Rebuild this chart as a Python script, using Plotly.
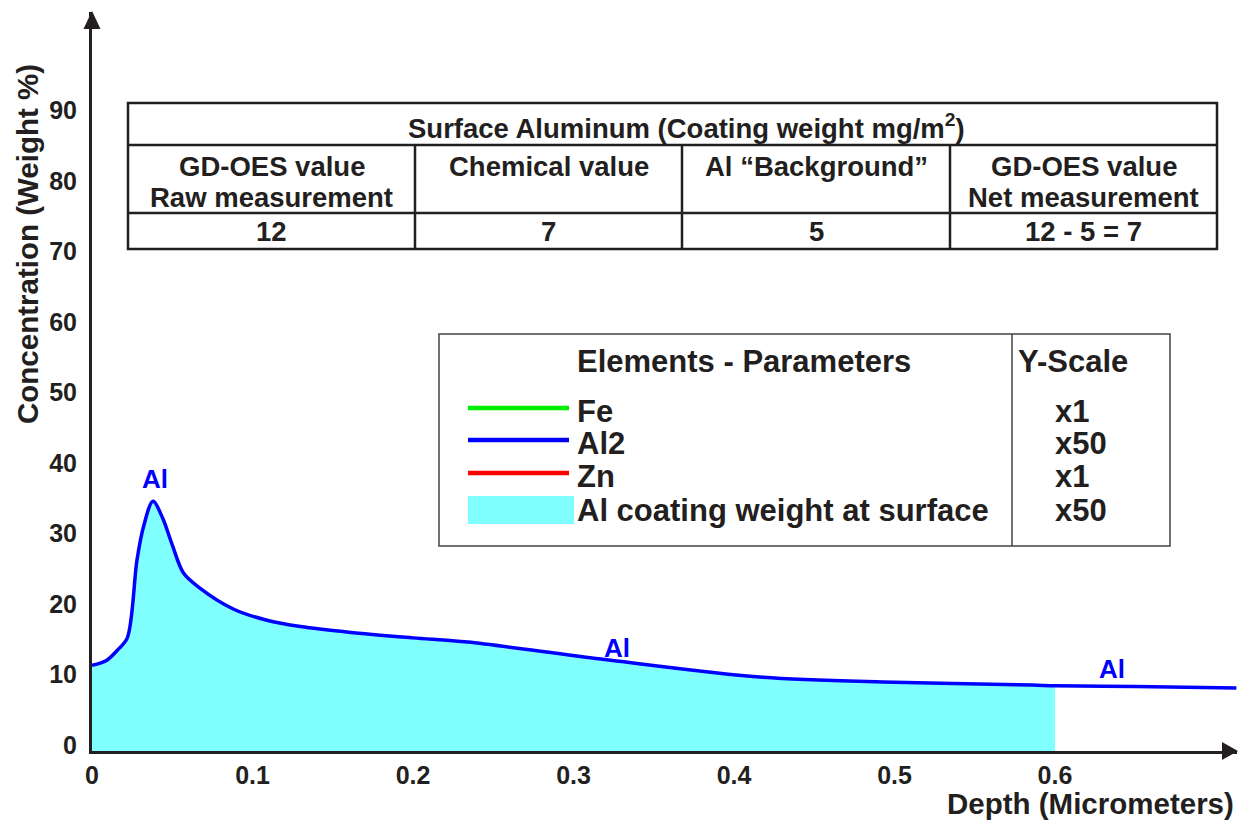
import plotly.graph_objects as go

# ---- data ----
depth = [0, 0.009, 0.016, 0.022, 0.028, 0.032, 0.038, 0.044, 0.050, 0.057, 0.067,
         0.088, 0.109, 0.130, 0.160, 0.200, 0.234, 0.317, 0.418, 0.500, 0.586, 0.600, 0.650, 0.713]
al2 = [11.3, 12.0, 13.5, 15.2, 26.2, 30.9, 34.6, 32.2, 28.4, 24.4, 22.3,
       19.3, 17.7, 16.8, 16.0, 15.2, 14.6, 12.2, 9.6, 8.9, 8.5, 8.4, 8.3, 8.1]
fill_limit = 0.6

x_ticks = [0, 0.1, 0.2, 0.3, 0.4, 0.5, 0.6]
x_ticktext = ["0", "0.1", "0.2", "0.3", "0.4", "0.5", "0.6"]
y_ticks = [0, 10, 20, 30, 40, 50, 60, 70, 80, 90]

table_title = "Surface Aluminum (Coating weight mg/m<sup>2</sup>)"
table_headers = [["GD-OES value", "Raw measurement"], ["Chemical value"],
                 ["Al \u201cBackground\u201d"], ["GD-OES value", "Net measurement"]]
table_values = ["12", "7", "5", "12 - 5 = 7"]

legend_names = ["Fe", "Al2", "Zn", "Al coating weight at surface"]
legend_scales = ["x1", "x50", "x1", "x50"]
legend_colors = ["#00EE00", "#0000FF", "#FF0000", "#80FFFF"]

peak_labels = [(0.0393, 37.7, "Al"), (0.327, 13.8, "Al"), (0.6355, 10.8, "Al")]

# ---- layout helpers (pixel -> paper) ----
W, H = 1238, 820
L, R, T, B = 92, 1, 12, 69
PW, PH = W - L - R, H - T - B
def px(x): return (x - L) / PW
def py(y): return (H - B - y) / PH

INK = "#231F20"
FONT = "Liberation Sans"
ymin, ymax = -0.85, 104.0
xmax = 0.7134

fig = go.Figure()

fd = [d for d in depth if d <= fill_limit]
fv = [v for d, v in zip(depth, al2) if d <= fill_limit]
fig.add_trace(go.Scatter(x=[0, fill_limit], y=[ymin, ymin], mode="lines",
                         line=dict(width=0), showlegend=False, hoverinfo="skip"))
fig.add_trace(go.Scatter(x=fd, y=fv, mode="lines", line=dict(width=0, shape="spline", smoothing=0.9),
                         fill="tonexty", fillcolor="#80FFFF", showlegend=False, hoverinfo="skip"))
fig.add_trace(go.Scatter(x=depth, y=al2, mode="lines", name="Al2",
                         line=dict(color="#0000FF", width=3.5, shape="spline", smoothing=0.9),
                         showlegend=False))

ann = []
shapes = []

def text_at(x, y, text, font, xanchor="center", yanchor="middle", **kw):
    d = dict(x=px(x), y=py(y), xref="paper", yref="paper", text=text, showarrow=False,
             xanchor=xanchor, yanchor=yanchor, font=font)
    d.update(kw)
    ann.append(d)

for (xv, yv, t) in peak_labels:
    ann.append(dict(x=xv, y=yv, xref="x", yref="y", text="<b>%s</b>" % t, showarrow=False,
                    xanchor="center", yanchor="middle", font=dict(family=FONT, size=26, color="#0000FF")))

# axis arrows
shapes.append(dict(type="path", xref="paper", yref="paper",
                   path="M %f,%f L %f,%f L %f,%f Z" % (px(1238), py(751), px(1222), py(742), px(1222), py(760)),
                   fillcolor=INK, line=dict(width=0)))
shapes.append(dict(type="path", xref="paper", yref="paper",
                   path="M %f,%f L %f,%f L %f,%f Z" % (px(92), py(11), px(83.5), py(29), px(100.5), py(29)),
                   fillcolor=INK, line=dict(width=0)))

# axis titles
text_at(28, 244, "<b>Concentration (Weight %)</b>", dict(family=FONT, size=29.5, color=INK), textangle=-90)
text_at(1236, 803, "<b>Depth (Micrometers)</b>", dict(family=FONT, size=29.5, color=INK), xanchor="right")

# ---- table ----
tl, tr, tt, tb = 128, 1217, 103, 249
r1, r2 = 145, 213
cols = [tl, 415, 682, 950, tr]
tline = dict(color=INK, width=2.5)
shapes.append(dict(type="rect", xref="paper", yref="paper", x0=px(tl), x1=px(tr), y0=py(tb), y1=py(tt),
                   line=tline, fillcolor="white"))
for yy in (r1, r2):
    shapes.append(dict(type="line", xref="paper", yref="paper", x0=px(tl), x1=px(tr), y0=py(yy), y1=py(yy), line=tline))
for xx in cols[1:-1]:
    shapes.append(dict(type="line", xref="paper", yref="paper", x0=px(xx), x1=px(xx), y0=py(r1), y1=py(tb), line=tline))
tfont = dict(family=FONT, size=27.5, color=INK)
text_at(686, 126, "<b>%s</b>" % table_title, tfont)
for i, hdr in enumerate(table_headers):
    cx = (cols[i] + cols[i + 1]) / 2
    for j, line in enumerate(hdr):
        text_at(cx, 166 + 31 * j, "<b>%s</b>" % line, tfont)
    text_at(cx, 231, "<b>%s</b>" % table_values[i], tfont)

# ---- legend box ----
ll, lr, lt, lb = 439, 1170, 334, 546
lsep = 1012
shapes.append(dict(type="rect", xref="paper", yref="paper", x0=px(ll), x1=px(lr), y0=py(lb), y1=py(lt),
                   line=dict(color="#444444", width=1.5), fillcolor="white"))
shapes.append(dict(type="line", xref="paper", yref="paper", x0=px(lsep), x1=px(lsep), y0=py(lt), y1=py(lb),
                   line=dict(color="#444444", width=1.5)))
lfont = dict(family=FONT, size=31, color=INK)
text_at(575, 361, "<b>Elements - Parameters</b>", lfont, xanchor="left")
text_at(1016, 361, "<b>Y-Scale</b>", lfont, xanchor="left")
rows_y = [411, 443, 476, 510]
for i, name in enumerate(legend_names):
    yy = rows_y[i]
    if i < 3:
        shapes.append(dict(type="line", xref="paper", yref="paper", x0=px(468), x1=px(569),
                           y0=py(yy - 3), y1=py(yy - 3), line=dict(color=legend_colors[i], width=4.5)))
    else:
        shapes.append(dict(type="rect", xref="paper", yref="paper", x0=px(468), x1=px(574),
                           y0=py(524), y1=py(496), fillcolor=legend_colors[i], line=dict(width=0)))
    text_at(575, yy, "<b>%s</b>" % name, lfont, xanchor="left")
    text_at(1053, yy, "<b>%s</b>" % legend_scales[i], lfont, xanchor="left")

tickfont = dict(family=FONT, size=25, color=INK, weight="bold")
fig.update_layout(
    width=W, height=H, margin=dict(l=L, r=R, t=T, b=B),
    paper_bgcolor="white", plot_bgcolor="white",
    showlegend=False, annotations=ann, shapes=shapes,
    xaxis=dict(range=[0, xmax], tickvals=x_ticks, ticktext=x_ticktext, showgrid=False, zeroline=False,
               showline=True, linecolor=INK, linewidth=3, ticks="", ticklabelstandoff=0,
               tickfont=tickfont),
    yaxis=dict(range=[ymin, ymax], tickvals=y_ticks, showgrid=False, zeroline=False,
               showline=True, linecolor=INK, linewidth=3, ticks="", ticklabelstandoff=7,
               tickfont=tickfont),
)

fig.write_html("out.html")
